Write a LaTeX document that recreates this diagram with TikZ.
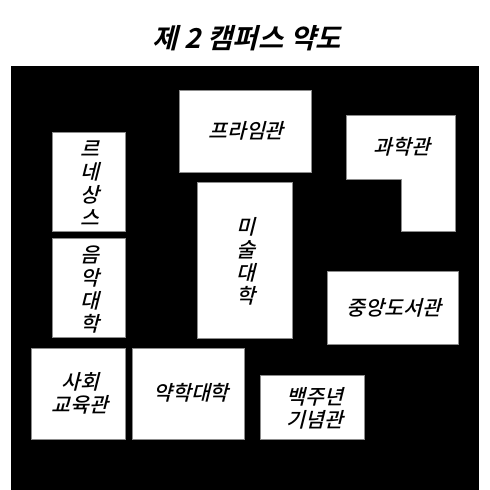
\documentclass[tikz,border=0pt]{standalone}
\usepackage{fontspec}
\setmainfont{Noto Sans CJK KR}[FakeSlant=0.25]
\newfontfamily\titlefont{Noto Sans CJK KR Bold}[FakeSlant=0.25]
\newfontfamily\labelfont{Noto Sans CJK KR Medium}[FakeSlant=0.25]
\begin{document}
\begin{tikzpicture}[x=1pt,y=-1pt,
  bld/.style={fill=white,draw=black!45,line width=0.5pt},
  lbl/.style={font=\labelfont\fontsize{20.5}{23}\selectfont,align=center,inner sep=0pt,text=black},
  vlbl/.style={lbl,font=\labelfont\fontsize{20.5}{23}\selectfont}]
\useasboundingbox (0,0) rectangle (490,490);
\fill[white] (0,0) rectangle (490,490);
\fill[black] (11,66) rectangle (479,490);
\node[inner sep=0pt,font=\titlefont\fontsize{27.5}{30}\selectfont] (title) at (246.5,38) {제\hspace{0.02em} 2\hspace{0.02em} 캠퍼스\hspace{0.02em} 약도};
\draw[bld] (179.5,90.5) rectangle (311,172);
\node[lbl] (prime) at (246,131) {프라임관};
\draw[bld] (346.5,115.5) -- (455.5,115.5) -- (455.5,231.5) -- (401.5,231.5) -- (401.5,179.5) -- (346.5,179.5) -- cycle;
\node[lbl] (science) at (402,147) {과학관};
\draw[bld] (52,132.5) rectangle (125,231.5);
\node[vlbl] (ren) at (90,183.5) {르\\네\\상\\스};
\draw[bld] (52,238.5) rectangle (125,337.5);
\node[vlbl] (music) at (90,289.5) {음\\악\\대\\학};
\draw[bld] (197.5,182.5) rectangle (292.5,338.5);
\node[vlbl] (art) at (246,261) {미\\술\\대\\학};
\draw[bld] (327.5,271.5) rectangle (458,344);
\node[lbl] (lib) at (394,308) {중앙도서관};
\draw[bld] (31.5,348.5) rectangle (125,439);
\node[lbl] (social) at (80,393.5) {사회\\교육관};
\draw[bld] (132.5,348.5) rectangle (244.5,439);
\node[lbl] (pharm) at (191,393) {약학대학};
\draw[bld] (260.5,375.5) rectangle (364.5,439);
\node[lbl] (cent) at (315,408) {백주년\\기념관};
\end{tikzpicture}
\end{document}
